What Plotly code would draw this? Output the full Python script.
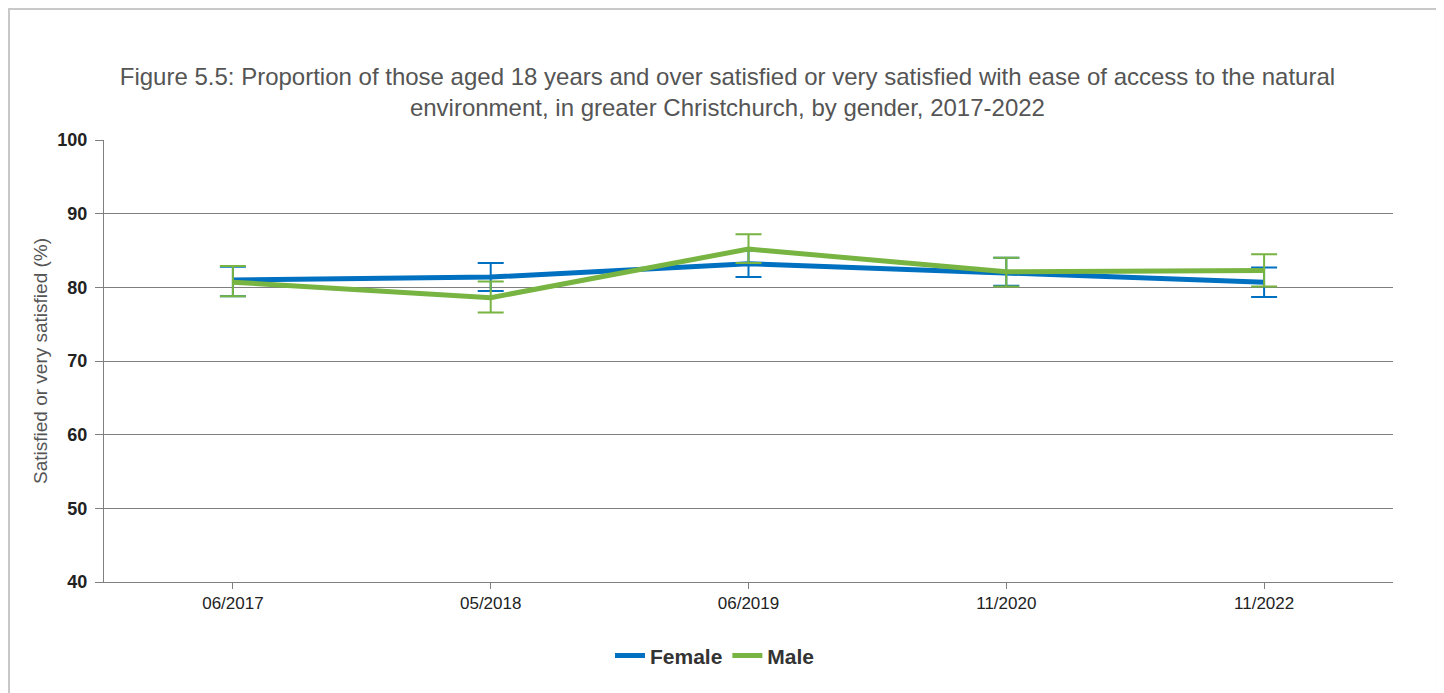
import plotly.graph_objects as go

categories = ["06/2017", "05/2018", "06/2019", "11/2020", "11/2022"]
female = [81.0, 81.4, 83.2, 82.0, 80.7]
female_upper = [82.8, 83.3, 85.0, 84.0, 82.7]
female_lower = [78.8, 79.5, 81.4, 80.2, 78.7]
male = [80.7, 78.6, 85.2, 82.1, 82.3]
male_upper = [82.9, 80.8, 87.2, 84.0, 84.5]
male_lower = [78.8, 76.6, 83.3, 80.1, 80.1]

blue = "#0070C0"
green = "#77B441"

fig = go.Figure()
fig.add_trace(go.Scatter(
    x=categories, y=female, name="Female", mode="lines",
    line=dict(color=blue, width=5),
    error_y=dict(type="data", symmetric=False,
                 array=[u - v for u, v in zip(female_upper, female)],
                 arrayminus=[v - l for v, l in zip(female, female_lower)],
                 color=blue, thickness=2, width=13),
))
fig.add_trace(go.Scatter(
    x=categories, y=male, name="Male", mode="lines",
    line=dict(color=green, width=5),
    error_y=dict(type="data", symmetric=False,
                 array=[u - v for u, v in zip(male_upper, male)],
                 arrayminus=[v - l for v, l in zip(male, male_lower)],
                 color=green, thickness=2, width=13),
))

fig.update_layout(
    width=1436, height=685,
    margin=dict(l=96, r=51, t=132, b=111),
    paper_bgcolor="white", plot_bgcolor="white",
    title=dict(
        text="Figure 5.5: Proportion of those aged 18 years and over satisfied or very satisfied with ease of access to the natural<br>environment, in greater Christchurch, by gender, 2017-2022",
        x=0.501, xanchor="center", y=0.888, yanchor="middle",
        font=dict(family="Liberation Sans, Arial, sans-serif", size=24, color="#555555"),
    ),
    font=dict(family="Liberation Sans, Arial, sans-serif"),
    showlegend=True,
    legend=dict(orientation="h", x=0.474, xanchor="center", y=-0.167, yanchor="middle",
                font=dict(size=21, color="#333333", family="Liberation Sans, Arial, sans-serif", weight="bold"),
                tracegroupgap=0),
    shapes=[dict(type="rect", xref="paper", yref="paper",
                 x0=-0.0737, x1=1.0341, y0=-0.5, y1=1.2964,
                 line=dict(color="#C8C8C8", width=2), fillcolor="rgba(0,0,0,0)", layer="below")],
)
fig.update_xaxes(
    type="category", range=[-0.5, 4.5], showline=True, linecolor="#7F7F7F", linewidth=1,
    ticks="outside", ticklen=6, tickcolor="#7F7F7F",
    tickfont=dict(family="Liberation Sans, Arial, sans-serif", size=17, color="#222222"),
    showgrid=False, zeroline=False,
)
fig.update_yaxes(
    range=[40, 100], dtick=10, showline=True, linecolor="#7F7F7F", linewidth=1,
    ticks="outside", ticklen=8, tickcolor="#7F7F7F", ticklabelstandoff=4,
    tickfont=dict(family="Liberation Sans, Arial, sans-serif", size=18, color="#222222", weight="bold"),
    showgrid=True, gridcolor="#7F7F7F", gridwidth=1, zeroline=False,
    title=dict(text="Satisfied or very satisfied (%)", standoff=4,
               font=dict(family="Liberation Sans, Arial, sans-serif", size=19, color="#555555")),
)

fig.write_html("out.html")
